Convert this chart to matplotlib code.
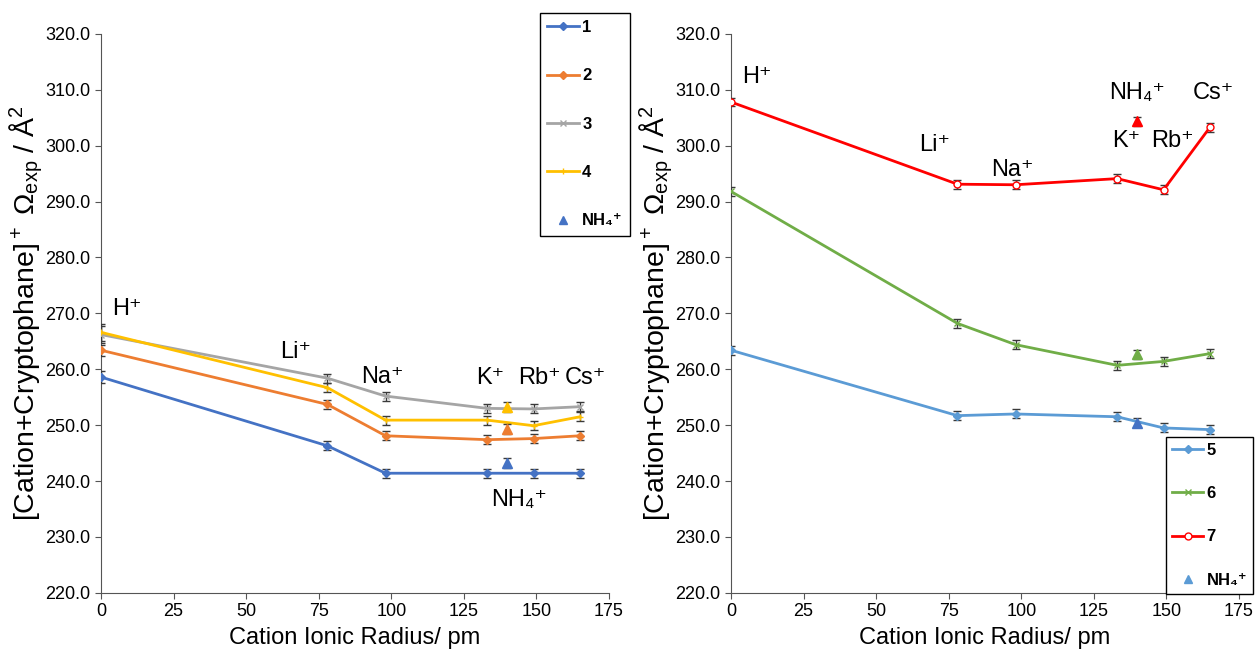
import numpy as np
import matplotlib.pyplot as plt
from matplotlib.lines import Line2D

plt.rcParams['font.family'] = ['Liberation Sans', 'DejaVu Sans']
plt.rcParams['mathtext.default'] = 'regular'

# ionic radii / pm  (H+, Li+, Na+, K+, Rb+, Cs+)
radius = [0, 78, 98, 133, 149, 165]
nh4_radius = 140

# left panel: cryptophanes 1-4
y1 = [258.6, 246.3, 241.4, 241.4, 241.4, 241.4]
y2 = [263.4, 253.7, 248.1, 247.4, 247.6, 248.1]
y3 = [266.2, 258.4, 255.2, 253.0, 252.9, 253.3]
y4 = [266.6, 256.7, 250.9, 250.9, 249.9, 251.5]
e1 = [1.0, 0.8, 0.8, 0.8, 0.8, 0.8]
e2 = [1.0, 0.8, 0.8, 0.8, 0.8, 0.8]
e3 = [1.5, 0.8, 0.8, 0.8, 0.8, 0.8]
e4 = [1.5, 0.8, 0.8, 0.8, 0.8, 0.8]
nh4_left = [243.2, 249.3, 253.2]      # 1, 2, 4
nh4_left_err = [0.9, 0.9, 0.9]

# right panel: cryptophanes 5-7
y5 = [263.4, 251.7, 252.0, 251.5, 249.5, 249.2]
y6 = [291.8, 268.2, 264.4, 260.7, 261.4, 262.8]
y7 = [307.8, 293.1, 293.0, 294.1, 292.1, 303.3]
e5 = [0.8, 0.8, 0.8, 0.8, 0.8, 0.8]
e6 = [0.8, 0.8, 0.8, 0.8, 0.8, 0.8]
e7 = [0.8, 0.8, 0.8, 0.8, 0.8, 0.8]
nh4_right = [250.4, 262.7, 304.4]     # 5, 6, 7
nh4_right_err = [0.8, 0.8, 0.8]

ions = ['H⁺', 'Li⁺', 'Na⁺', 'K⁺', 'Rb⁺', 'Cs⁺', 'NH₄⁺']
# label positions (x, y) in data units
ion_pos_left = [(9, 270.8), (67, 263.0), (97, 258.6), (134, 258.4), (151, 258.4), (167, 258.4), (144, 236.6)]
ion_pos_right = [(9, 312.3), (70, 300.1), (97, 295.6), (136, 300.8), (152, 300.8), (166, 309.4), (140, 309.4)]

ylabel = '[Cation+Cryptophane]$^+$ $\\Omega_{exp}$ / Å$^2$'
errc = '#3a3a3a'

fig = plt.figure(figsize=(12.55, 6.58), dpi=100)
axL = fig.add_axes([0.0805, 0.099, 0.4048, 0.8496])
axR = fig.add_axes([0.5825, 0.099, 0.4048, 0.8496])


def series(ax, y, e, color, marker, ms, label, mfc=None):
    ax.errorbar(radius, y, yerr=e, color=color, lw=2, marker=marker, ms=ms,
                mfc=mfc if mfc else color, mec=color,
                ecolor=errc, elinewidth=1, capsize=3, capthick=1, zorder=3)
    return Line2D([], [], color=color, lw=2, marker=marker, ms=ms,
                  mfc=mfc if mfc else color, mec=color, label=label)


def nh4(ax, y, e, color):
    ax.errorbar([nh4_radius], [y], yerr=[e], color=color, ls='none', marker='^', ms=7,
                ecolor=errc, elinewidth=1, capsize=3, capthick=1, zorder=4)


hL = []
hL.append(series(axL, y1, e1, '#4472C4', 'D', 4, '1'))
hL.append(series(axL, y2, e2, '#ED7D31', 'D', 4, '2'))
hL.append(series(axL, y3, e3, '#A5A5A5', 'x', 5, '3'))
hL.append(series(axL, y4, e4, '#FFC000', '+', 5, '4'))
nh4(axL, nh4_left[0], nh4_left_err[0], '#4472C4')
nh4(axL, nh4_left[1], nh4_left_err[1], '#ED7D31')
nh4(axL, nh4_left[2], nh4_left_err[2], '#FFC000')
hL.append(Line2D([], [], color='#4472C4', ls='none', marker='^', ms=6, label='NH₄⁺'))

hR = []
hR.append(series(axR, y5, e5, '#5B9BD5', 'D', 4, '5'))
hR.append(series(axR, y6, e6, '#70AD47', 'x', 5, '6'))
hR.append(series(axR, y7, e7, '#FF0000', 'o', 5, '7', mfc='white'))
nh4(axR, nh4_right[0], nh4_right_err[0], '#4472C4')
nh4(axR, nh4_right[1], nh4_right_err[1], '#70AD47')
nh4(axR, nh4_right[2], nh4_right_err[2], '#FF0000')
hR.append(Line2D([], [], color='#5B9BD5', ls='none', marker='^', ms=6, label='NH₄⁺'))

for ax, pos in [(axL, ion_pos_left), (axR, ion_pos_right)]:
    for name, (px, py) in zip(ions, pos):
        ax.text(px, py, name, fontsize=17, ha='center', va='center')
    ax.set_xlim(0, 175)
    ax.set_ylim(220, 320)
    ax.set_xticks(np.arange(0, 176, 25))
    ax.set_yticks(np.arange(220, 321, 10))
    ax.set_yticklabels(['%.1f' % v for v in np.arange(220, 321, 10)])
    ax.tick_params(labelsize=13, direction='out', length=4, color='#555555')
    ax.spines['top'].set_visible(False)
    ax.spines['right'].set_visible(False)
    ax.spines['left'].set_color('#555555')
    ax.spines['bottom'].set_color('#555555')
    ax.set_xlabel('Cation Ionic Radius/ pm', fontsize=17, labelpad=5)
    ax.set_ylabel(ylabel, fontsize=20.5, labelpad=0)

legL = fig.legend(handles=hL, loc='upper left', bbox_to_anchor=(0.430, 0.981), borderaxespad=0,
                  frameon=True, fancybox=False, edgecolor='black', framealpha=1,
                  labelspacing=2.0, handlelength=1.9, handletextpad=0.2, borderpad=0.45,
                  prop={'weight': 'bold', 'size': 12})
legL.get_frame().set_linewidth(1)
legR = fig.legend(handles=hR, loc='upper left', bbox_to_anchor=(0.929, 0.336), borderaxespad=0,
                  frameon=True, fancybox=False, edgecolor='black', framealpha=1,
                  labelspacing=1.7, handlelength=1.9, handletextpad=0.2, borderpad=0.35,
                  prop={'weight': 'bold', 'size': 12})
legR.get_frame().set_linewidth(1)

plt.savefig('out.png', dpi=100)
